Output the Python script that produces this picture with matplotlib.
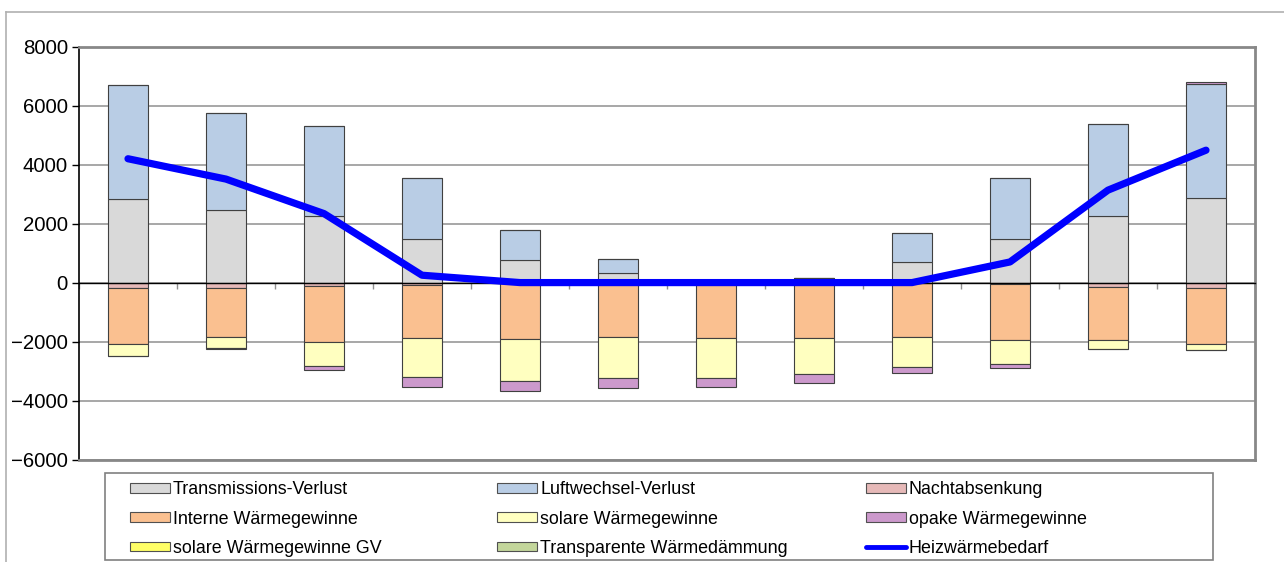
import numpy as np
import matplotlib
matplotlib.use("Agg")
import matplotlib.pyplot as plt
from matplotlib.patches import Rectangle, Patch
from matplotlib.lines import Line2D

plt.rcParams['font.family'] = ['Liberation Sans', 'DejaVu Sans']

months = ["Jan", "Feb", "Mär", "Apr", "Mai", "Jun", "Jul", "Aug", "Sep", "Okt", "Nov", "Dez"]

transmission = [2850, 2445, 2260, 1495, 757, 340, 0, 140, 700, 1495, 2275, 2875]
luftwechsel = [3840, 3295, 3060, 2040, 1043, 475, 0, 0, 965, 2040, 3100, 3845]
nachtabsenkung = [-200, -170, -125, -80, 0, 0, 0, 0, 0, -60, -150, -200]
interne = [-1870, -1680, -1875, -1810, -1920, -1830, -1890, -1890, -1850, -1890, -1800, -1870]
solare = [-430, -380, -820, -1320, -1420, -1410, -1350, -1210, -1010, -800, -300, -210]
opake = [0, -20, -160, -320, -340, -340, -300, -300, -210, -150, 20, 70]
solare_gv = [0] * 12
twd = [0] * 12
heizwaerme = [4200, 3510, 2340, 250, 0, 0, 0, 0, 0, 700, 3135, 4490]

series = [
    ("Transmissions-Verlust", transmission, "#d9d9d9"),
    ("Luftwechsel-Verlust", luftwechsel, "#b9cde5"),
    ("Nachtabsenkung", nachtabsenkung, "#e6b9b8"),
    ("Interne Wärmegewinne", interne, "#fac090"),
    ("solare Wärmegewinne", solare, "#ffffc0"),
    ("opake Wärmegewinne", opake, "#cc99cc"),
    ("solare Wärmegewinne GV", solare_gv, "#ffff66"),
    ("Transparente Wärmedämmung", twd, "#c3d69b"),
]

W, H = 1284, 562
fig = plt.figure(figsize=(W / 100, H / 100), dpi=100)
ax = fig.add_axes([79 / W, 1 - 459.5 / H, (1255 - 79) / W, (459.5 - 46.7) / H])

x = np.arange(len(months))
pos_bottom = np.zeros(len(months))
neg_bottom = np.zeros(len(months))
for name, vals, col in series:
    v = np.array(vals, dtype=float)
    p = np.where(v > 0, v, 0)
    n = np.where(v < 0, v, 0)
    if np.any(p):
        ax.bar(x, p, 0.41, bottom=pos_bottom, color=col, edgecolor="#404040",
               linewidth=0.8, zorder=3)
    if np.any(n):
        ax.bar(x, n, 0.41, bottom=neg_bottom, color=col, edgecolor="#404040",
               linewidth=0.8, zorder=3)
    pos_bottom += p
    neg_bottom += n

ax.plot(x, heizwaerme, color="#0000ff", lw=5.2, solid_capstyle="round",
        solid_joinstyle="round", zorder=6)

ax.set_xlim(-0.5, 11.5)
ax.set_ylim(-6000, 8000)
ax.set_yticks(np.arange(-6000, 8001, 2000))
ax.yaxis.grid(True, color="#a0a0a0", lw=1.3)
ax.set_axisbelow(True)
ax.tick_params(axis="y", direction="out", length=5, width=1, color="black",
               labelsize=14.7, pad=3)

ax.spines["bottom"].set_position(("data", 0))
ax.spines["bottom"].set_color("black")
ax.spines["bottom"].set_linewidth(1)
ax.spines["bottom"].set_zorder(5)
ax.set_xticks(np.arange(-0.5, 12, 1))
ax.set_xticklabels([])
ax.tick_params(axis="x", direction="out", length=4.5, width=1, color="#909090")
ax.spines["left"].set_color("black")
ax.spines["left"].set_linewidth(1.2)
for s in ("top", "right"):
    ax.spines[s].set_color("#888888")
    ax.spines[s].set_linewidth(2)
ax.plot([0, 1], [0, 0], transform=ax.transAxes, color="#888888", lw=2,
        clip_on=False, zorder=6)

# outer chart border
fig.add_artist(Line2D([6 / W, 1], [1 - 11.5 / H, 1 - 11.5 / H], color="#b0b0b0", lw=1.2))
fig.add_artist(Line2D([6 / W, 6 / W], [0, 1 - 11.5 / H], color="#b0b0b0", lw=1.2))

# legend frame
fig.add_artist(Rectangle((105 / W, 1 - 560 / H), (1213 - 105) / W, (560 - 473) / H,
                         transform=fig.transFigure, fill=False, edgecolor="#808080", lw=1.2))

handles = [Patch(facecolor=c, edgecolor="#505050", lw=0.8) for _, _, c in series]
labels = [n for n, _, _ in series]
handles.append(Line2D([], [], color="#0000ff", lw=3.5, solid_capstyle="round"))
labels.append("Heizwärmebedarf")

col_x = [130, 497, 866]
for ci in range(3):
    idx = [ci, ci + 3, ci + 6]
    leg = fig.legend([handles[i] for i in idx], [labels[i] for i in idx],
                     loc="upper left", bbox_to_anchor=(col_x[ci] / W, 1 - 481.5 / H),
                     bbox_transform=fig.transFigure, frameon=False, borderpad=0,
                     borderaxespad=0, fontsize=12.9, handlelength=2.23,
                     handleheight=0.45, handletextpad=0.17, labelspacing=0.68)

fig.savefig("out.png", dpi=100)
